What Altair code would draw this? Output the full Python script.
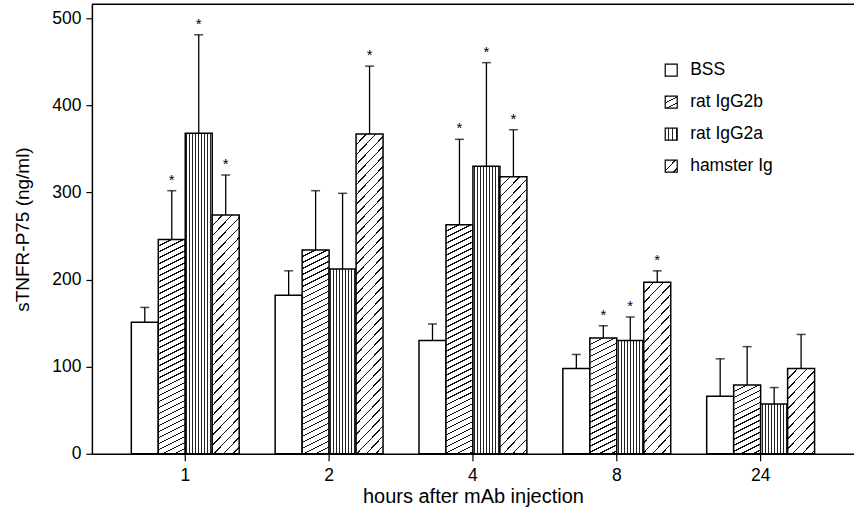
import altair as alt
import pandas as pd

# ---------------- data ----------------
hours = ["1", "2", "4", "8", "24"]
treatments = ["BSS", "rat IgG2b", "rat IgG2a", "hamster Ig"]

bss_mean = [151, 182, 130, 98, 66]
bss_upper = [168, 210, 149, 114, 109]
igg2b_mean = [246, 234, 263, 133, 79]
igg2b_upper = [302, 302, 361, 147, 123]
igg2a_mean = [368, 212, 330, 130, 57]
igg2a_upper = [481, 299, 449, 157, 76]
hamster_mean = [274, 367, 318, 197, 98]
hamster_upper = [320, 445, 372, 210, 137]

bss_sig = [0, 0, 0, 0, 0]
igg2b_sig = [1, 0, 1, 1, 0]
igg2a_sig = [1, 0, 1, 1, 0]
hamster_sig = [1, 1, 1, 1, 0]

# ---------------- layout ----------------
W, H = 763, 450
Y_MAX = 516
PX = H / Y_MAX
BAR_W = 27
FONT = "Liberation Sans"


def hatch(a, period, lw, w, h, color="#111111"):
    """Linear gradient with hard stops giving diagonal stripes a*x + y = const."""
    k = (a * w + h) / (a * a * w * w + h * h)
    span = a * w + h
    n = int(span / period) + 1
    stops = []
    for i in range(n):
        s = i * period / span
        e = (i * period + lw) / span
        if s >= 1:
            break
        e = min(e, 1)
        stops += [
            {"offset": s, "color": "white"},
            {"offset": s, "color": color},
            {"offset": e, "color": color},
            {"offset": e, "color": "white"},
        ]
    return {"gradient": "linear", "x1": 0, "y1": 0,
            "x2": a * w * k, "y2": h * k, "stops": stops}


def vstripes(n, frac, color="#222222"):
    stops = []
    for i in range(n):
        s = (i + 0.5 - frac / 2) / n
        e = (i + 0.5 + frac / 2) / n
        stops += [
            {"offset": s, "color": "white"},
            {"offset": s, "color": color},
            {"offset": e, "color": color},
            {"offset": e, "color": "white"},
        ]
    return {"gradient": "linear", "x1": 0, "y1": 0, "x2": 1, "y2": 0,
            "stops": stops}


def fill_for(t, w, h):
    if t == "BSS":
        return "white"
    if t == "rat IgG2b":
        return hatch(0.5, 6, 1.3, w, h)
    if t == "rat IgG2a":
        return vstripes(9, 0.38)
    return hatch(1.05, 10, 1.4, w, h)


means = [bss_mean, igg2b_mean, igg2a_mean, hamster_mean]
uppers = [bss_upper, igg2b_upper, igg2a_upper, hamster_upper]
sigs = [bss_sig, igg2b_sig, igg2a_sig, hamster_sig]

rows = []
for ti, t in enumerate(treatments):
    for hi, hr in enumerate(hours):
        m = means[ti][hi]
        rows.append({
            "hours": hr,
            "treatment": t,
            "mean": m,
            "upper": uppers[ti][hi],
            "star": "*" if sigs[ti][hi] else "",
            "fill": fill_for(t, BAR_W, m * PX),
        })
df = pd.DataFrame(rows)

x_enc = alt.X("hours:N", sort=hours,
              scale=alt.Scale(paddingInner=0.25, paddingOuter=0.274),
              axis=alt.Axis(title="hours after mAb injection", labelAngle=0,
                            labelFontSize=17.5, titleFontSize=20,
                            titleFontWeight="normal", tickSize=7,
                            labelPadding=6, titlePadding=2,
                            domainColor="black", tickColor="black",
                            labelColor="black", titleColor="black",
                            domainWidth=1.5, tickWidth=1.2,
                            labelFont=FONT, titleFont=FONT))
xo_enc = alt.XOffset("treatment:N", sort=treatments,
                     scale=alt.Scale(paddingInner=0, paddingOuter=0))
y_scale = alt.Scale(domain=[0, Y_MAX], nice=False)

base = alt.Chart(df)

bars = base.mark_bar(stroke="black", strokeWidth=1.5).encode(
    x=x_enc,
    xOffset=xo_enc,
    y=alt.Y("mean:Q", scale=y_scale,
            axis=alt.Axis(title="sTNFR-P75 (ng/ml)", values=[0, 100, 200, 300, 400, 500],
                          grid=False, labelFontSize=17.5, titleFontSize=19,
                          titleFontWeight="normal", tickSize=6, labelPadding=5,
                          titlePadding=19, domainColor="black", tickColor="black",
                          labelColor="black", titleColor="black", domainWidth=1.5,
                          tickWidth=1.2, labelFont=FONT, titleFont=FONT)),
    fill=alt.Fill("fill:N", scale=None),
)

errs = base.mark_rule(color="black", strokeWidth=1.3).encode(
    x=alt.X("hours:N", sort=hours), xOffset=xo_enc,
    y=alt.Y("mean:Q", scale=y_scale), y2="upper:Q",
)

caps = base.mark_tick(color="black", thickness=1.5, size=9, orient="horizontal").encode(
    x=alt.X("hours:N", sort=hours), xOffset=xo_enc,
    y=alt.Y("upper:Q", scale=y_scale),
)

stars = base.mark_text(font=FONT, fontSize=15, color="black", baseline="alphabetic",
                       dy=-6).encode(
    x=alt.X("hours:N", sort=hours), xOffset=xo_enc,
    y=alt.Y("upper:Q", scale=y_scale),
    text="star:N",
)

top_border = alt.Chart(pd.DataFrame({"t": [0]})).mark_rule(
    color="black", strokeWidth=1.5).encode(
    x=alt.value(0), x2=alt.value(W), y=alt.value(0))

# ---------------- legend ----------------
legend_layers = []
for i, t in enumerate(treatments):
    yc = 66 + i * 32
    sw = pd.DataFrame({"t": [t]})
    f = fill_for(t, 12, 12)
    legend_layers.append(
        alt.Chart(sw).mark_rect(stroke="black", strokeWidth=1.2, fill=f).encode(
            x=alt.value(666 - 92), x2=alt.value(678 - 92),
            y=alt.value(yc - 6), y2=alt.value(yc + 6),
        )
    )
    legend_layers.append(
        alt.Chart(sw).mark_text(font=FONT, fontSize=17.5, align="left",
                                baseline="middle", color="black").encode(
            x=alt.value(691 - 92), y=alt.value(yc), text="t:N",
        )
    )

chart = alt.layer(bars, errs, caps, stars, top_border, *legend_layers).properties(
    width=W, height=H,
    autosize=alt.AutoSizeParams(type="none"),
    padding={"left": 92, "top": 4, "right": 0, "bottom": 54},
).configure_view(
    stroke=None
).configure(background="white")

chart.save("out.html", embed_options={"renderer": "svg", "actions": False})
